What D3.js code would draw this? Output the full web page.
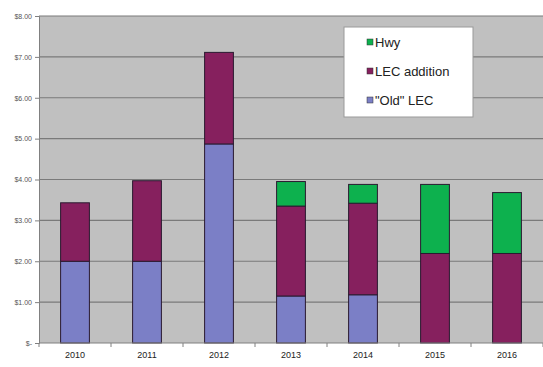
<!DOCTYPE html>
<html lang="en">
<head>
    <meta charset="UTF-8">
    <title>LEC funding</title>
    <script src="https://cdn.jsdelivr.net/npm/d3@7"></script>
    <style>
        body {
            margin: 0;
            padding: 0;
            background: #fff;
            font-family: Arial, "Liberation Sans", sans-serif;
        }
        #chart { display: block; }
    </style>
</head>
<body>
    <svg id="chart" width="543" height="367"></svg>
    <script>
        const years = ["2010", "2011", "2012", "2013", "2014", "2015", "2016"];
        const oldLec = [2.00, 2.00, 4.87, 1.15, 1.18, 0, 0];
        const lecAddition = [1.43, 1.97, 2.24, 2.20, 2.24, 2.19, 2.19];
        const hwy = [0, 0, 0, 0.60, 0.46, 1.69, 1.49];
        const seriesNames = ["\"Old\" LEC", "LEC addition", "Hwy"];
        const colors = ["#7b7fc6", "#86205e", "#0db14e"];
        const yTicks = [0, 1, 2, 3, 4, 5, 6, 7, 8];

        const svg = d3.select("#chart");
        const margin = { top: 16, right: 0, bottom: 24, left: 39 };
        const width = 543 - margin.left - margin.right;
        const height = 367 - margin.top - margin.bottom;

        const rows = years.map((y, i) => ({ year: y, "\"Old\" LEC": oldLec[i], "LEC addition": lecAddition[i], "Hwy": hwy[i] }));
        const stacked = d3.stack().keys(seriesNames)(rows);

        const x = d3.scaleBand().domain(years).range([0, width]).paddingInner(0.6).paddingOuter(0.3);
        const y = d3.scaleLinear().domain([0, 8]).range([height, 0]);

        const g = svg.append("g").attr("transform", `translate(${margin.left},${margin.top})`);

        // plot background
        g.append("rect")
            .attr("width", width)
            .attr("height", height)
            .attr("fill", "#c0c0c0");

        // gridlines
        g.append("g")
            .selectAll("line")
            .data(yTicks.slice(1))
            .enter()
            .append("line")
            .attr("x1", 0)
            .attr("x2", width)
            .attr("y1", d => y(d))
            .attr("y2", d => y(d))
            .attr("stroke", "#7a7a7a")
            .attr("stroke-width", 1.2);

        // bars
        g.selectAll(".series")
            .data(stacked)
            .enter()
            .append("g")
            .attr("fill", (d, i) => colors[i])
            .selectAll("rect")
            .data(d => d.filter(s => s[1] - s[0] > 0))
            .enter()
            .append("rect")
            .attr("x", d => x(d.data.year))
            .attr("width", x.bandwidth())
            .attr("y", d => y(d[1]))
            .attr("height", d => y(d[0]) - y(d[1]))
            .attr("stroke", "#2a1a30")
            .attr("stroke-width", 1);

        // y axis
        const yAxis = g.append("g")
            .call(d3.axisLeft(y).tickValues(yTicks).tickSize(4)
                .tickFormat(d => d === 0 ? "$-" : "$" + d3.format(".2f")(d)));
        yAxis.select(".domain").attr("stroke", "#808080");
        yAxis.selectAll(".tick line").attr("stroke", "#808080");
        yAxis.selectAll("text").attr("fill", "#555").attr("font-size", "7px");

        // x axis
        const boundaries = d3.range(years.length + 1).map(i => i * x.step());
        const xAxis = g.append("g").attr("transform", `translate(0,${height})`);
        xAxis.append("line").attr("x1", 0).attr("x2", width).attr("stroke", "#808080");
        xAxis.selectAll(".bt")
            .data(boundaries)
            .enter()
            .append("line")
            .attr("x1", d => d)
            .attr("x2", d => d)
            .attr("y1", 0)
            .attr("y2", 4)
            .attr("stroke", "#808080");
        xAxis.selectAll("text")
            .data(years)
            .enter()
            .append("text")
            .attr("x", d => x(d) + x.bandwidth() / 2)
            .attr("y", 15)
            .attr("text-anchor", "middle")
            .attr("font-size", "9px")
            .attr("fill", "#222")
            .text(d => d);

        // legend
        const legend = svg.append("g").attr("transform", "translate(344,27)");
        legend.append("rect")
            .attr("width", 129)
            .attr("height", 90)
            .attr("fill", "#fff")
            .attr("stroke", "#999");
        const legendItems = seriesNames.slice().reverse();
        const legendColors = colors.slice().reverse();
        legendItems.forEach((name, i) => {
            const ly = 16 + i * 29;
            legend.append("rect")
                .attr("x", 23)
                .attr("y", ly - 4)
                .attr("width", 6)
                .attr("height", 6)
                .attr("fill", legendColors[i])
                .attr("stroke", "#333")
                .attr("stroke-width", 0.5);
            legend.append("text")
                .attr("x", 31)
                .attr("y", ly + 4)
                .attr("font-size", "13px")
                .attr("fill", "#222")
                .text(name);
        });
    </script>
</body>
</html>
